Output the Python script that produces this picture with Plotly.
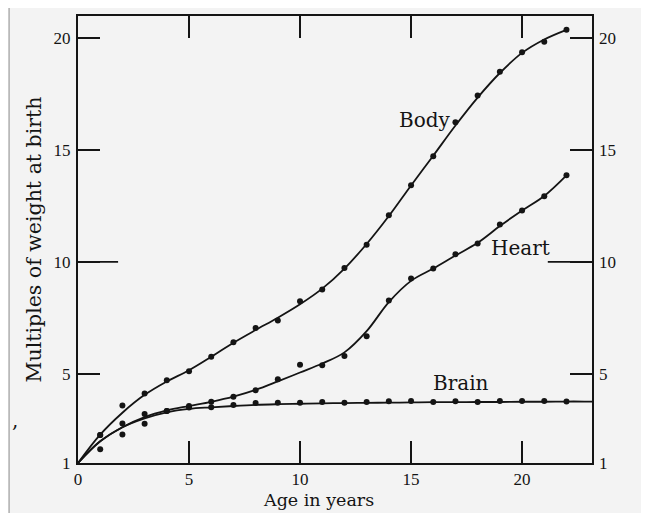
import plotly.graph_objects as go

# ---- data ----
ages = list(range(1, 23))
body = [2.25, 3.57, 4.11, 4.70, 5.10, 5.75, 6.40, 7.04, 7.38, 8.24, 8.76,
        9.73, 10.77, 12.08, 13.43, 14.73, 16.25, 17.44, 18.51, 19.38, 19.85, 20.38]
heart = [1.62, 2.27, 2.76, 3.33, 3.55, 3.74, 3.96, 4.25, 4.75, 5.40, 5.37,
         5.79, 6.67, 8.27, 9.25, 9.70, 10.34, 10.82, 11.67, 12.30, 12.93, 13.87]
brain = [2.25, 2.77, 3.19, 3.33, 3.48, 3.49, 3.59, 3.69, 3.70, 3.70, 3.73,
         3.70, 3.73, 3.76, 3.77, 3.73, 3.76, 3.73, 3.77, 3.77, 3.77, 3.75]

# smooth fitted curves
curve_ages = list(range(0, 23))
body_curve = [1.0, 2.27, 3.25, 4.05, 4.65, 5.15, 5.75, 6.38, 6.95, 7.5, 8.1, 8.8,
              9.7, 10.8, 12.05, 13.42, 14.75, 16.1, 17.35, 18.45, 19.35, 19.95, 20.38]
heart_curve = [1.0, 1.97, 2.6, 3.05, 3.35, 3.55, 3.74, 3.97, 4.27, 4.65, 5.05, 5.45,
               5.95, 6.9, 8.2, 9.15, 9.7, 10.28, 10.85, 11.6, 12.3, 12.95, 13.87]
brain_ages = list(range(0, 25))
brain_curve = [1.0, 1.97, 2.6, 3.0, 3.27, 3.42, 3.49, 3.55, 3.6, 3.63, 3.65, 3.67,
               3.68, 3.69, 3.7, 3.71, 3.72, 3.72, 3.73, 3.73, 3.74, 3.74, 3.75, 3.75, 3.75]

x_ticks = [0, 5, 10, 15, 20]
y_ticks = [1, 5, 10, 15, 20]
x_range = [0, 23.15]
y_range = [1, 21.0]

INK = "#141414"
FONT = "DejaVu Serif"
TICKFONT = dict(family="Liberation Serif", size=17, color=INK)
BG = "#f3f3f3"

fig = go.Figure()
for cx, cy in [(curve_ages, body_curve), (curve_ages, heart_curve), (brain_ages, brain_curve)]:
    fig.add_trace(go.Scatter(x=cx, y=cy, mode="lines", line=dict(color=INK, width=1.8, shape="spline"),
                             showlegend=False, hoverinfo="skip"))
for sy in [body, heart, brain]:
    fig.add_trace(go.Scatter(x=ages, y=sy, mode="markers", marker=dict(color=INK, size=6),
                             showlegend=False))
# helper trace for the right-hand axis
fig.add_trace(go.Scatter(x=[None], y=[None], yaxis="y2", showlegend=False))

axis_common = dict(showgrid=False, zeroline=False, showline=True, linecolor=INK, linewidth=2,
                   ticks="inside", ticklen=22, tickwidth=1.6, tickcolor=INK, mirror="ticks",
                   automargin=False, tickfont=TICKFONT)

# the page body adds an 8px margin, so the figure is 16px smaller than the window
fig.update_layout(
    width=633, height=505,
    margin=dict(l=70, r=49, t=8, b=50),
    paper_bgcolor=BG, plot_bgcolor=BG,
    xaxis=dict(range=x_range, tickvals=x_ticks, **axis_common),
    yaxis=dict(range=y_range, tickvals=y_ticks, ticklabelstandoff=2, **axis_common),
    yaxis2=dict(range=y_range, tickvals=y_ticks, overlaying="y", side="right", automargin=False,
                showgrid=False, zeroline=False, showline=False, ticks="",
                ticklabelstandoff=6, tickfont=TICKFONT),
    font=dict(family=FONT, color=INK),
)

# longer ticks at 10 on both vertical axes
fig.add_shape(type="line", xref="paper", yref="y", x0=0, x1=0.078, y0=10, y1=10,
              line=dict(color=INK, width=1.6))
fig.add_shape(type="line", xref="paper", yref="y", x0=0.914, x1=1, y0=10, y1=10,
              line=dict(color=INK, width=1.6))
# page edge of the scan
fig.add_shape(type="line", xref="paper", yref="paper", x0=-0.134, x1=-0.134, y0=-0.13, y1=1.04,
              line=dict(color="#b0b0b0", width=1.5))

# series labels
LABELFONT = dict(family=FONT, size=20, color=INK)
for lx, ly, txt in [(15.63, 16.35, "Body"), (19.95, 10.62, "Heart"), (17.25, 4.58, "Brain")]:
    fig.add_annotation(x=lx, y=ly, text=txt, showarrow=False, font=LABELFONT,
                       xanchor="center", yanchor="middle")

# axis titles
fig.add_annotation(xref="paper", yref="paper", x=-0.0875, y=0.5, text="Multiples of weight at birth",
                   textangle=-90, showarrow=False, xanchor="center", yanchor="middle",
                   font=dict(family=FONT, size=20.5, color=INK))
fig.add_annotation(xref="paper", yref="paper", x=0.467, y=-0.083, text="Age in years",
                   showarrow=False, xanchor="center", yanchor="middle",
                   font=dict(family=FONT, size=17.5, color=INK))
fig.add_annotation(xref="paper", yref="paper", x=-0.1226, y=0.096, text=",",
                   showarrow=False, xanchor="center", yanchor="middle",
                   font=dict(family=FONT, size=20, color=INK))

fig.write_html("out.html")
